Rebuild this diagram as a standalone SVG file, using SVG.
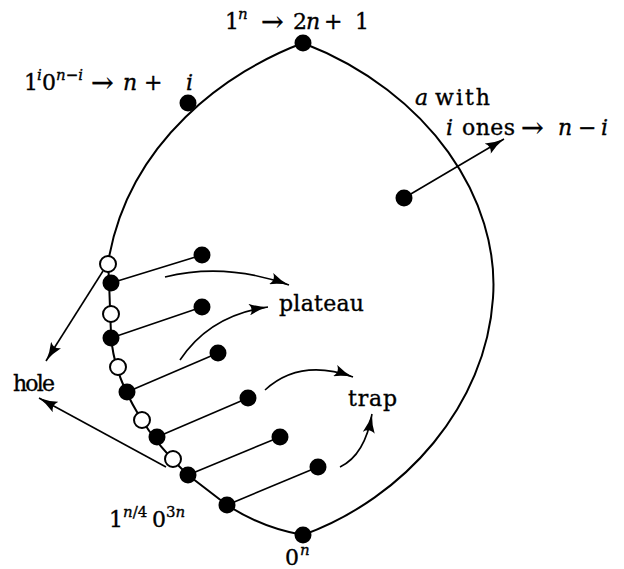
<svg xmlns="http://www.w3.org/2000/svg" width="624" height="569" viewBox="0 0 624 569">
<style>
.t{font-family:"DejaVu Serif","Liberation Serif",serif;font-size:22px;fill:#000;stroke:#000;stroke-width:0.35}
.m{font-style:italic}
.s{font-size:15px}
.r{font-size:27px}
.c{fill:none;stroke:#000;stroke-width:2}
.l{fill:none;stroke:#000;stroke-width:1.6}
.a{fill:none;stroke:#000;stroke-width:1.6;marker-end:url(#ah)}
.f{fill:#000}
.o{fill:#fff;stroke:#000;stroke-width:2}
</style>
<defs>
<marker id="ah" markerUnits="userSpaceOnUse" markerWidth="20" markerHeight="12" refX="19" refY="6" orient="auto">
<path d="M0,0 Q9,4.5 19,6 Q9,7.5 0,12 Q5,6 0,0 Z" fill="#000"/>
</marker>
</defs>
<rect width="624" height="569" fill="#fff"/>
<g id="connectors">
<path class="c" d="M303,43 C430,92 500,200 493,298 C486,405 405,498 303,535"/>
<path class="c" d="M303,43 C230,70 128,140 108,263"/>
<path class="c" d="M108,263 C110,290 110,330 112,345 C118,390 150,440 188,475 L227,505 Q262,528 303,535"/>
<line class="l" x1="111" y1="283" x2="202" y2="255"/>
<line class="l" x1="111" y1="338" x2="202" y2="307"/>
<line class="l" x1="127" y1="392" x2="218" y2="353"/>
<line class="l" x1="157" y1="437" x2="248" y2="398"/>
<line class="l" x1="188" y1="475" x2="280" y2="437"/>
<line class="l" x1="227" y1="505" x2="318" y2="467"/>
<line class="a" x1="404" y1="198" x2="504" y2="139"/>
<line class="a" x1="103" y1="271" x2="46" y2="361"/>
<line class="a" x1="166" y1="467" x2="39" y2="398"/>
<path class="a" d="M165,277 Q225,262 289,285"/>
<path class="a" d="M180,360 Q210,315 268,307"/>
<path class="a" d="M265,390 Q300,358 353,377"/>
<path class="a" d="M340,467 Q365,455 372,414"/>
</g>
<g id="n-top"><circle class="f" cx="303" cy="43" r="8.5"/></g>
<g id="n-left"><circle class="f" cx="188" cy="103" r="8.5"/></g>
<g id="n-inner"><circle class="f" cx="404" cy="198" r="8.5"/></g>
<g id="n-bottom"><circle class="f" cx="303" cy="535" r="8.5"/></g>
<g id="chain">
<circle class="f" cx="111" cy="283" r="8.5"/>
<circle class="f" cx="111" cy="338" r="8.5"/>
<circle class="f" cx="127" cy="392" r="8.5"/>
<circle class="f" cx="157" cy="437" r="8.5"/>
<circle class="f" cx="188" cy="475" r="8.5"/>
<circle class="f" cx="227" cy="505" r="8.5"/>
<circle class="o" cx="108" cy="264" r="8"/>
<circle class="o" cx="111" cy="314" r="8"/>
<circle class="o" cx="118" cy="367" r="8"/>
<circle class="o" cx="142" cy="420" r="8"/>
<circle class="o" cx="173" cy="459" r="8"/>
</g>
<g id="ends">
<circle class="f" cx="202" cy="255" r="8.5"/>
<circle class="f" cx="202" cy="307" r="8.5"/>
<circle class="f" cx="218" cy="353" r="8.5"/>
<circle class="f" cx="248" cy="398" r="8.5"/>
<circle class="f" cx="280" cy="437" r="8.5"/>
<circle class="f" cx="318" cy="467" r="8.5"/>
</g>
<g id="labels">
<text class="t"><tspan x="225" y="29">1</tspan><tspan class="m s" x="238" y="19">n</tspan><tspan class="r" x="261" y="31">→</tspan><tspan x="293" y="29">2</tspan><tspan class="m" x="306" y="29">n</tspan><tspan x="324" y="29">+</tspan><tspan x="355" y="29">1</tspan></text>
<text class="t"><tspan x="24" y="90">1</tspan><tspan class="m s" x="37" y="80">i</tspan><tspan x="42" y="90">0</tspan><tspan class="s" x="56" y="80"><tspan class="m">n</tspan>−<tspan class="m">i</tspan></tspan><tspan class="r" x="91" y="92">→</tspan><tspan class="m" x="123" y="90">n</tspan><tspan x="144" y="90">+</tspan><tspan class="m" x="186" y="90">i</tspan></text>
<text class="t"><tspan class="m" x="415" y="105">a</tspan><tspan x="435" y="105" textLength="55">with</tspan></text>
<text class="t"><tspan class="m" x="446" y="135">i</tspan><tspan x="462" y="135" textLength="53">ones</tspan><tspan class="r" x="521" y="137">→</tspan><tspan class="m" x="558" y="135">n</tspan><tspan x="578" y="135">−</tspan><tspan class="m" x="601" y="135">i</tspan></text>
<text class="t" x="13" y="391" textLength="42">hole</text>
<text class="t" x="279" y="311" textLength="85">plateau</text>
<text class="t" x="348" y="406" textLength="49">trap</text>
<text class="t"><tspan x="109" y="527">1</tspan><tspan class="s" x="123" y="517"><tspan class="m">n</tspan>/4</tspan><tspan x="152" y="527">0</tspan><tspan class="s" x="166" y="517">3<tspan class="m">n</tspan></tspan></text>
<text class="t"><tspan x="285" y="565">0</tspan><tspan class="m s" x="300" y="555">n</tspan></text>
</g>
</svg>
